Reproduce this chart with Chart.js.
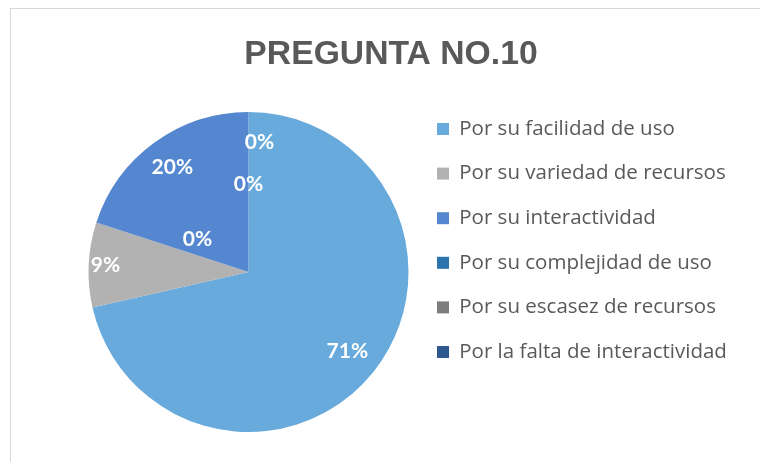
<!DOCTYPE html>
<html>
<head>
<meta charset="utf-8">
<script src="https://cdn.jsdelivr.net/npm/chart.js@4.4.1/dist/chart.umd.min.js"></script>
<style>
  html, body { margin: 0; padding: 0; overflow: hidden; background: #fff; }
  /* marco gris del grafico (solo se ve arriba y a la izquierda) */
  #marco {
    position: absolute; left: 10px; top: 8px; width: 760px; height: 470px;
    border-top: 1px solid #d9d9d9; border-left: 1px solid #d9d9d9;
  }
  #grafica { position: absolute; left: 0; top: 0; }
</style>
</head>
<body>
<div id="marco"></div>
<canvas id="grafica" width="760" height="462"></canvas>
<script>
// =========================
//   Datos
// =========================
const titulo = "PREGUNTA NO.10";

const categorias = [
    "Por su facilidad de uso",
    "Por su variedad de recursos",
    "Por su interactividad",
    "Por su complejidad de uso",
    "Por su escasez de recursos",
    "Por la falta de interactividad"
];

const respuestas = [25, 3, 7, 0, 0, 0];

const colores = ["#69aadc", "#b2b2b2", "#5487cf", "#2e74ac", "#7d7d7d", "#2f5790"];

// posicion de las etiquetas (fraccion del radio + ajuste en px)
const radioEtiqueta = [0.79, 0.895, 0.81, 0.81, 0.55, 0.38];
const ajusteEtiqueta = [[0, 0], [0, 0], [0, 0], [11, 0], [0, 0], [-51, 28]];

// =========================
//   Medidas
// =========================
const fuenteLeyenda = { family: "Open Sans", size: 20.5 };
const separacionLeyenda = 24.1;
const cajaLeyenda = 12;
const inicioLeyenda = 411.9;   // borde izquierdo de la leyenda
const centroPastel = 248;
const centroTitulo = 391;

// ancho de la leyenda segun el texto mas largo
const medidor = document.createElement("canvas").getContext("2d");
medidor.font = `${fuenteLeyenda.size}px "${fuenteLeyenda.family}"`;
const textoMasLargo = Math.max(...categorias.map(t => medidor.measureText(t).width));
const anchoLeyenda = Math.ceil(separacionLeyenda + cajaLeyenda + fuenteLeyenda.size / 2 + textoMasLargo + 10);

const paddingIzq = 2 * centroPastel - inicioLeyenda;
const paddingDer = 760 - inicioLeyenda - anchoLeyenda;

// =========================
//   Plugins
// =========================
const etiquetasPlugin = {
    id: "etiquetas",
    afterDatasetsDraw(chart) {
        const ctx = chart.ctx;
        const meta = chart.getDatasetMeta(0);
        const total = respuestas.reduce((sum, v) => sum + v, 0);

        ctx.save();
        ctx.font = "bold 21px Lato";
        ctx.fillStyle = "#ffffff";
        ctx.textAlign = "center";
        ctx.textBaseline = "middle";

        meta.data.forEach((arco, i) => {
            const p = arco.getProps(["x", "y", "startAngle", "endAngle", "outerRadius"], true);
            const medio = (p.startAngle + p.endAngle) / 2;
            const r = p.outerRadius * radioEtiqueta[i];
            const x = p.x + Math.cos(medio) * r + ajusteEtiqueta[i][0];
            const y = p.y + Math.sin(medio) * r + ajusteEtiqueta[i][1];
            ctx.fillText(Math.round(respuestas[i] / total * 100) + "%", x, y);
        });
        ctx.restore();
    }
};

// mueve el titulo para centrarlo como en el original
const tituloPlugin = {
    id: "moverTitulo",
    afterLayout(chart) {
        const t = chart.titleBlock;
        if (!t) return;
        const d = (t.left + t.right) / 2 - centroTitulo;
        t.left -= d;
        t.right -= d;
    }
};

// =========================
//   Grafica
// =========================
new Chart(document.getElementById("grafica"), {
    type: "pie",
    data: {
        labels: categorias,
        datasets: [{
            data: respuestas,
            backgroundColor: colores,
            borderWidth: 0,
            radius: 160
        }]
    },
    options: {
        responsive: false,
        animation: false,
        events: [],
        layout: {
            padding: { top: 19, bottom: 0, left: paddingIzq, right: paddingDer }
        },
        plugins: {
            title: {
                display: true,
                text: titulo,
                color: "#595959",
                font: { family: "Liberation Sans", size: 33.7, weight: "bold" },
                padding: { top: 15.3, bottom: 7.3 }
            },
            legend: {
                position: "right",
                maxWidth: anchoLeyenda,
                labels: {
                    boxWidth: cajaLeyenda,
                    boxHeight: cajaLeyenda,
                    padding: separacionLeyenda,
                    color: "#595959",
                    font: fuenteLeyenda
                }
            },
            tooltip: { enabled: false }
        }
    },
    plugins: [etiquetasPlugin, tituloPlugin]
});
</script>
</body>
</html>
